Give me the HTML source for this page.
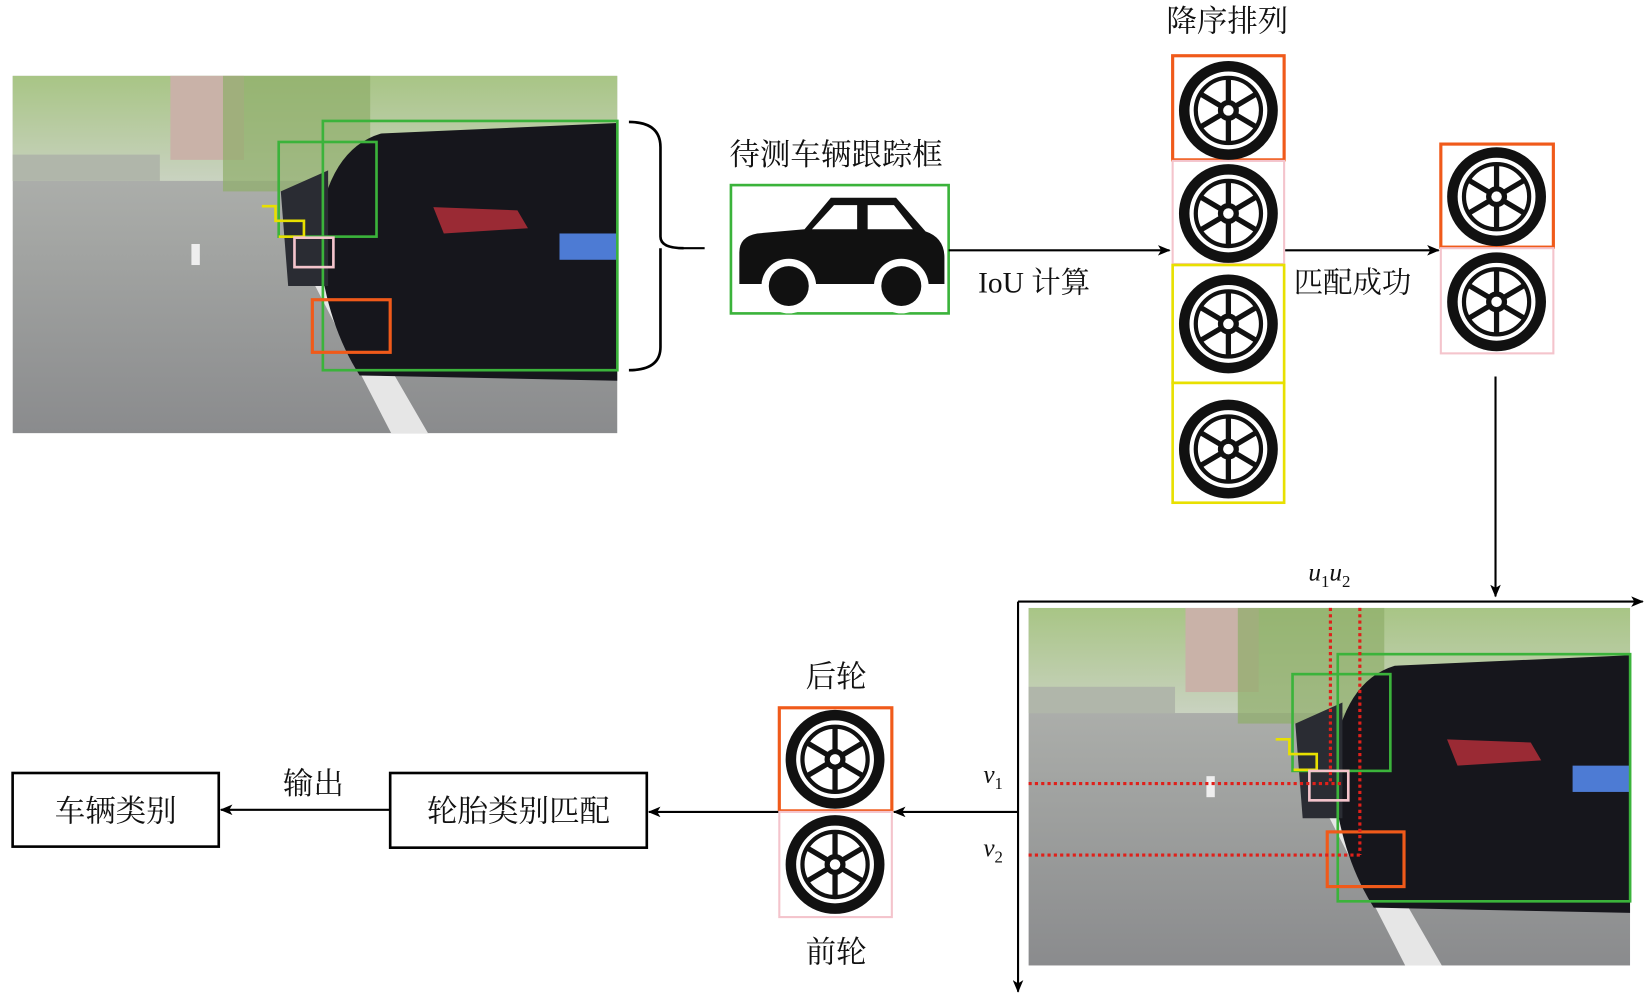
<!DOCTYPE html>
<html><head><meta charset="utf-8"><style>
html,body{margin:0;padding:0;background:#fff;width:1649px;height:997px;overflow:hidden}
#w{position:absolute;left:0;top:0;width:1568px;height:948px;transform:scale(1.0517);transform-origin:0 0}
text{font-family:"Liberation Serif","Noto Serif CJK SC","Noto Sans CJK SC",serif;fill:#111}
</style></head><body><div id="w">
<svg width="1568" height="948" viewBox="0 0 1568 948" xmlns="http://www.w3.org/2000/svg">
<defs>
<marker id="ar" markerWidth="12" markerHeight="10" refX="11" refY="5" orient="auto" markerUnits="userSpaceOnUse">
<path d="M0,0 L12,5 L0,10 L3,5 Z" fill="#000"/></marker>
<linearGradient id="road" x1="0" y1="0" x2="0" y2="1"><stop offset="0" stop-color="#b9bcb6"/><stop offset="1" stop-color="#8a8b8d"/></linearGradient>
<linearGradient id="sky" x1="0" y1="0" x2="0" y2="1"><stop offset="0" stop-color="#a8c585"/><stop offset="1" stop-color="#c9d2c0"/></linearGradient>
<symbol id="photo" viewBox="0 0 575 340" preserveAspectRatio="none">
<rect width="575" height="340" fill="url(#road)"/>
<rect width="575" height="100" fill="url(#sky)"/>
<rect x="150" y="0" width="70" height="80" fill="#c9b2a8"/>
<rect x="200" y="0" width="140" height="110" fill="#8fae6a" opacity=".7"/>
<rect x="0" y="75" width="140" height="25" fill="#b0b6aa"/>
<path d="M262,150 L285,150 L395,340 L360,340 Z" fill="#e6e6e6"/>
<rect x="170" y="160" width="8" height="20" fill="#eee"/>
<path d="M290,150 Q300,70 350,55 L575,45 L575,290 L330,285 Q295,230 290,150Z" fill="#16161c"/>
<path d="M255,110 L300,90 L300,200 L262,200Z" fill="#2a2c33"/>
<rect x="520" y="150" width="55" height="25" fill="#4d7bd4"/>
<path d="M400,125 L480,128 L490,145 L410,150Z" fill="#9a2a34"/>
</symbol>
<symbol id="wheel" viewBox="0 0 100 100">
<circle cx="50" cy="50" r="42" fill="none" stroke="#111" stroke-width="10"/>
<circle cx="50" cy="50" r="31" fill="none" stroke="#111" stroke-width="4"/>
<g stroke="#111" stroke-width="5">
<line x1="50" y1="19" x2="50" y2="81"/><line x1="23" y1="34" x2="77" y2="66"/><line x1="23" y1="66" x2="77" y2="34"/></g>
<circle cx="50" cy="50" r="10" fill="#111"/><circle cx="50" cy="50" r="5" fill="#fff"/>
</symbol>
</defs>

<!-- photo 1 -->
<use href="#photo" x="12" y="72" width="575" height="340"/>
<rect x="307" y="115" width="280" height="237" fill="none" stroke="#3bb33b" stroke-width="2.5"/>
<rect x="265" y="135" width="93" height="90" fill="none" stroke="#3bb33b" stroke-width="2.5"/>
<path d="M249,196 L262,196 L262,210 L289,210 L289,225 L265,225" fill="none" stroke="#e8e000" stroke-width="2.5"/>
<rect x="280" y="226" width="37" height="28" fill="none" stroke="#f4c4cc" stroke-width="2.5"/>
<rect x="297" y="285" width="74" height="50" fill="none" stroke="#f05a1a" stroke-width="3"/>
<path d="M598,116 Q628,116 628,140 L628,225 Q628,236 650,236 M628,236 Q628,236 628,250 L628,330 Q628,352 598,352" fill="none" stroke="#000" stroke-width="2.5"/>
<line x1="645" y1="236" x2="670" y2="236" stroke="#000" stroke-width="2"/>

<text x="795" y="157" font-size="29" text-anchor="middle">待测车辆跟踪框</text>
<rect x="695" y="176" width="207" height="122" fill="#fff" stroke="#3bb33b" stroke-width="2.5"/>
<path d="M703,240 Q703,225 720,222 L765,218 L790,188 L852,188 L880,220 Q898,226 898,245 L898,270 L703,270Z" fill="#111"/>
<path d="M772,218 L793,195 L815,195 L815,218Z M825,195 L850,195 L868,218 L825,218Z" fill="#fff"/>
<circle cx="750" cy="272" r="26" fill="#fff"/><circle cx="750" cy="272" r="19" fill="#111"/>
<circle cx="857" cy="272" r="26" fill="#fff"/><circle cx="857" cy="272" r="19" fill="#111"/>

<line x1="902" y1="238" x2="1112" y2="238" stroke="#000" stroke-width="2" marker-end="url(#ar)"/>
<text x="930" y="278" font-size="28">IoU 计算</text>

<text x="1167" y="30" font-size="29" text-anchor="middle">降序排列</text>
<rect x="1115" y="53" width="106" height="99" fill="none" stroke="#f05a1a" stroke-width="3"/>
<rect x="1115" y="153" width="106" height="98" fill="none" stroke="#f4c4cc" stroke-width="2"/>
<rect x="1115" y="252" width="106" height="112" fill="none" stroke="#e8e000" stroke-width="2.5"/>
<rect x="1115" y="364" width="106" height="114" fill="none" stroke="#e8e000" stroke-width="2.5"/>
<use href="#wheel" x="1118" y="55" width="100" height="100"/>
<use href="#wheel" x="1118" y="153" width="100" height="100"/>
<use href="#wheel" x="1118" y="258" width="100" height="100"/>
<use href="#wheel" x="1118" y="377" width="100" height="100"/>

<line x1="1222" y1="238" x2="1368" y2="238" stroke="#000" stroke-width="2" marker-end="url(#ar)"/>
<text x="1230" y="278" font-size="28">匹配成功</text>
<rect x="1370" y="137" width="107" height="98" fill="none" stroke="#f05a1a" stroke-width="3"/>
<rect x="1370" y="236" width="107" height="100" fill="none" stroke="#f4c4cc" stroke-width="2"/>
<use href="#wheel" x="1373" y="137" width="100" height="100"/>
<use href="#wheel" x="1373" y="237" width="100" height="100"/>
<line x1="1422" y1="358" x2="1422" y2="567" stroke="#000" stroke-width="2" marker-end="url(#ar)"/>

<!-- photo 2 -->
<use href="#photo" x="978" y="578" width="572" height="340"/>
<rect x="1272" y="622" width="278" height="235" fill="none" stroke="#3bb33b" stroke-width="2.5"/>
<rect x="1229" y="641" width="93" height="92" fill="none" stroke="#3bb33b" stroke-width="2.5"/>
<path d="M1213,703 L1226,703 L1226,717 L1252,717 L1252,732 L1230,732" fill="none" stroke="#e8e000" stroke-width="2.5"/>
<rect x="1245" y="733" width="37" height="28" fill="none" stroke="#f4c4cc" stroke-width="2.5"/>
<rect x="1262" y="791" width="73" height="52" fill="none" stroke="#f05a1a" stroke-width="3"/>
<g stroke="#e0201a" stroke-width="3" stroke-dasharray="3,3">
<line x1="1265" y1="578" x2="1265" y2="745"/><line x1="1293" y1="578" x2="1293" y2="813"/>
<line x1="978" y1="745" x2="1275" y2="745"/><line x1="978" y1="813" x2="1293" y2="813"/></g>
<line x1="968" y1="572" x2="1562" y2="572" stroke="#000" stroke-width="2" marker-end="url(#ar)"/>
<line x1="968" y1="572" x2="968" y2="943" stroke="#000" stroke-width="2" marker-end="url(#ar)"/>
<text x="1244" y="552" font-size="24" font-style="italic">u<tspan font-size="16" font-style="normal" dy="6">1</tspan><tspan dy="-6" font-style="italic">u</tspan><tspan font-size="16" font-style="normal" dy="6">2</tspan></text>
<text x="935" y="744" font-size="24" font-style="italic">v<tspan font-size="16" font-style="normal" dy="6">1</tspan></text>
<text x="935" y="814" font-size="24" font-style="italic">v<tspan font-size="16" font-style="normal" dy="6">2</tspan></text>

<line x1="968" y1="772" x2="850" y2="772" stroke="#000" stroke-width="2" marker-end="url(#ar)"/>
<text x="795" y="653" font-size="29" text-anchor="middle">后轮</text>
<rect x="741" y="673" width="107" height="98" fill="none" stroke="#f05a1a" stroke-width="3"/>
<rect x="741" y="772" width="107" height="100" fill="none" stroke="#f4c4cc" stroke-width="2"/>
<use href="#wheel" x="744" y="672" width="100" height="100"/>
<use href="#wheel" x="744" y="772" width="100" height="100"/>
<text x="795" y="915" font-size="29" text-anchor="middle">前轮</text>

<line x1="740" y1="772" x2="617" y2="772" stroke="#000" stroke-width="2" marker-end="url(#ar)"/>
<rect x="371" y="735" width="244" height="71" fill="none" stroke="#000" stroke-width="2.5"/>
<text x="493" y="781" font-size="29" text-anchor="middle">轮胎类别匹配</text>
<line x1="370" y1="770" x2="210" y2="770" stroke="#000" stroke-width="2" marker-end="url(#ar)"/>
<text x="298" y="755" font-size="29" text-anchor="middle">输出</text>
<rect x="12" y="735" width="196" height="70" fill="none" stroke="#000" stroke-width="2.5"/>
<text x="110" y="781" font-size="29" text-anchor="middle">车辆类别</text>
</svg></div></body></html>
